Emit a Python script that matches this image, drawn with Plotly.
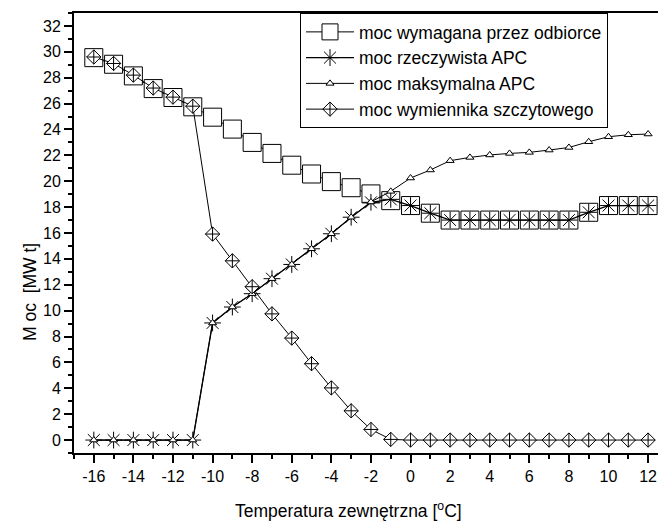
import plotly.graph_objects as go

temp = list(range(-16, 13))

demand = [29.55, 29.04, 28.14, 27.16, 26.47, 25.75, 24.95, 24.03, 23.0, 22.15,
          21.24, 20.56, 19.97, 19.5, 19.02, 18.5, 18.12, 17.53, 17.0, 17.0,
          17.0, 17.0, 17.0, 17.0, 17.0, 17.6, 18.12, 18.12, 18.12]
apc_actual = [0, 0, 0, 0, 0, 0, 9.05, 10.28, 11.31, 12.47,
              13.57, 14.78, 15.94, 17.22, 18.37, 18.6, 18.12, 17.53, 17.0, 17.0,
              17.0, 17.0, 17.0, 17.0, 17.0, 17.6, 18.12, 18.12, 18.12]
apc_max = [0, 0, 0, 0, 0, 0, 9.05, 10.28, 11.31, 12.47,
           13.57, 14.78, 15.94, 17.22, 18.4, 19.22, 20.25, 20.87, 21.59, 21.84,
           22.03, 22.15, 22.23, 22.41, 22.61, 23.05, 23.44, 23.59, 23.65]
peak = [29.6, 29.1, 28.2, 27.2, 26.5, 25.8, 15.92, 13.85, 11.85, 9.75,
        7.88, 5.9, 4.03, 2.26, 0.82, 0.05, 0, 0, 0, 0,
        0, 0, 0, 0, 0, 0, 0, 0, 0]

names = ["moc wymagana przez odbiorce", "moc rzeczywista APC",
         "moc maksymalna APC", "moc wymiennika szczytowego"]

# x tick labels use a plain hyphen like the original
x_ticks = list(range(-16, 13, 2))
x_ticklabels = [str(t) for t in x_ticks]

font = "Arial, Liberation Sans, sans-serif"

fig = go.Figure()

fig.add_trace(go.Scatter(
    x=temp, y=demand, name=names[0], mode="lines+markers",
    line=dict(color="black", width=1),
    marker=dict(symbol="square", size=18, color="white",
                line=dict(color="black", width=1))
))
fig.add_trace(go.Scatter(
    x=temp, y=apc_actual, name=names[1], mode="lines+markers",
    line=dict(color="black", width=1.3),
    marker=dict(symbol="asterisk-open", size=14, color="black",
                line=dict(color="black", width=1))
))
fig.add_trace(go.Scatter(
    x=temp, y=apc_max, name=names[2], mode="lines+markers",
    line=dict(color="black", width=1),
    marker=dict(symbol="triangle-up", size=7, color="white",
                line=dict(color="black", width=1))
))
fig.add_trace(go.Scatter(
    x=temp, y=peak, name=names[3], mode="lines+markers",
    line=dict(color="black", width=1),
    marker=dict(symbol="diamond-cross", size=11, color="white",
                line=dict(color="black", width=1))
))

# axis titles as annotations so they sit where the original has them
fig.add_annotation(text="Temperatura zewnętrzna [<sup>o</sup>C]",
                   xref="paper", yref="paper", x=(348 - 74) / 584, y=-57 / 440,
                   xanchor="center", yanchor="middle", showarrow=False,
                   font=dict(size=17.5))
fig.add_annotation(text="M oc  [MW t]",
                   xref="paper", yref="paper", x=-44 / 584, y=(453 - 292) / 440,
                   xanchor="center", yanchor="middle", showarrow=False,
                   textangle=-90, font=dict(size=17.5))

fig.update_layout(
    width=658, height=522,
    margin=dict(l=74, r=0, t=13, b=69),
    paper_bgcolor="white", plot_bgcolor="white",
    font=dict(family=font, size=16, color="black"),
    legend=dict(
        x=0.387, y=1, xanchor="left", yanchor="top",
        bgcolor="white", bordercolor="black", borderwidth=1,
        font=dict(size=17.5), itemwidth=48, tracegroupgap=0
    ),
    xaxis=dict(
        range=[-17, 12.5], tickvals=x_ticks, ticktext=x_ticklabels,
        showgrid=False, zeroline=False,
        showline=True, linecolor="black", linewidth=2, mirror=True,
        ticks="outside", ticklen=8, tickwidth=2, tickcolor="black",
        minor=dict(tick0=-17, dtick=1, ticks="outside", ticklen=4, tickwidth=2, tickcolor="black"),
    ),
    yaxis=dict(
        range=[-1, 33], tick0=0, dtick=2,
        showgrid=False, zeroline=False,
        showline=True, linecolor="black", linewidth=2,
        ticks="outside", ticklen=8, tickwidth=2, tickcolor="black",
        minor=dict(dtick=1, ticks="outside", ticklen=4, tickwidth=2, tickcolor="black"),
    ),
)

fig.write_html("out.html", config={"displayModeBar": False},
               post_script="document.body.style.margin='0';")
